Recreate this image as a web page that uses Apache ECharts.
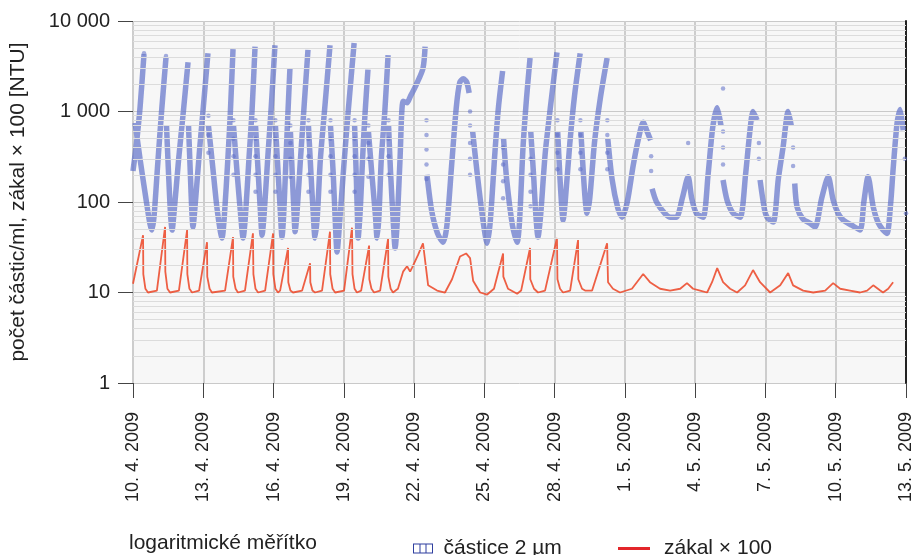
<!DOCTYPE html>
<html><head><meta charset="utf-8">
<script src="https://cdn.jsdelivr.net/npm/echarts@6/dist/echarts.min.js"></script>
<style>html,body{margin:0;padding:0;background:#fff}#c{width:919px;height:555px}</style>
</head><body><div id="c"></div>
<script>
// x values are days since 10. 4. 2009 00:00
const xTickLabels = ['10. 4. 2009','13. 4. 2009','16. 4. 2009','19. 4. 2009','22. 4. 2009','25. 4. 2009','28. 4. 2009','1. 5. 2009','4. 5. 2009','7. 5. 2009','10. 5. 2009','13. 5. 2009'];
const yTickLabels = ['1','10','100','1 000','10 000'];
const minorGrid = [2,3,4,5,6,7,8,9,20,30,40,50,60,70,80,90,200,300,400,500,600,700,800,900,2000,3000,4000,5000,6000,7000,8000,9000];
const seriesNames = ['částice 2 µm','zákal × 100'];
const footnote = 'logaritmické měřítko';
const yTitle = 'počet částic/ml, zákal × 100 [NTU]';

// particle counts (částice 2 µm): measured runs, one sub-array per continuous run
const particleSegments = [
 [[0,220],[0.15,450],[0.3,1100],[0.47,4300]],
 [[0.09,750],[0.3,300],[0.55,110],[0.72,58],[0.81,49],[0.9,70],[1.05,250],[1.22,1000],[1.41,4000]],
 [[1.43,700],[1.52,200],[1.6,75],[1.67,49],[1.75,75],[1.95,300],[2.15,1000],[2.35,3500]],
 [[2.37,700],[2.45,200],[2.51,80],[2.56,53],[2.65,90],[2.85,400],[3.0,1100],[3.2,4400]],
 [[3.22,700],[3.4,250],[3.6,80],[3.8,40],[3.9,70],[4.05,300],[4.15,900],[4.27,4900]],
 [[4.29,700],[4.45,200],[4.6,70],[4.7,40],[4.8,70],[4.95,300],[5.08,1000],[5.21,5200]],
 [[5.23,700],[5.35,200],[5.45,70],[5.51,43],[5.6,75],[5.75,300],[5.9,1100],[6.06,5400]],
 [[6.08,700],[6.2,200],[6.3,70],[6.36,41],[6.43,70],[6.52,250],[6.6,800],[6.7,3000]],
 [[6.72,600],[6.8,200],[6.87,80],[6.92,47],[7.0,75],[7.15,300],[7.3,1100],[7.47,4800]],
 [[7.49,700],[7.6,200],[7.7,70],[7.77,40],[7.87,70],[8.0,300],[8.2,1200],[8.41,5400]],
 [[8.43,700],[8.55,200],[8.65,50],[8.71,28],[8.8,50],[9.0,250],[9.2,1100],[9.44,5700]],
 [[9.46,700],[9.53,200],[9.58,70],[9.61,40],[9.7,80],[9.8,300],[9.9,900],[10.03,2900]],
 [[10.05,600],[10.2,200],[10.35,70],[10.42,40],[10.5,70],[10.6,300],[10.75,1000],[10.89,4200]],
 [[10.91,700],[11.0,200],[11.12,55],[11.19,31],[11.28,60],[11.4,300],[11.53,1300],[11.7,1250],[11.83,1450],[12.1,2000],[12.38,3000],[12.47,5200]],
 [[12.55,200],[12.75,80],[13.0,45],[13.24,36],[13.4,55],[13.6,250],[13.8,1100],[13.95,2100],[14.1,2300],[14.25,2100],[14.35,1600]],
 [[14.5,600],[14.7,200],[14.95,60],[15.12,35],[15.25,60],[15.45,350],[15.6,1100],[15.78,2800]],
 [[15.82,500],[15.95,180],[16.2,55],[16.4,36],[16.5,60],[16.65,400],[16.8,1400],[16.95,3900]],
 [[16.98,600],[17.1,200],[17.2,70],[17.29,41],[17.4,70],[17.6,350],[17.85,1300],[18.1,4500]],
 [[18.13,600],[18.22,200],[18.3,90],[18.36,63],[18.45,100],[18.65,450],[18.85,1500],[19.09,4400]],
 [[19.12,600],[19.22,220],[19.3,110],[19.38,75],[19.5,110],[19.7,450],[19.95,1400],[20.24,3900]],
 [[20.27,500],[20.45,180],[20.7,85],[20.88,68],[21.1,100],[21.35,250],[21.6,530],[21.78,760],[21.95,600],[22.1,480]],
 [[22.16,140],[22.35,100],[22.7,75],[22.95,68],[23.2,68],[23.45,110],[23.7,190],[23.85,110],[24.05,75],[24.34,68],[24.55,200],[24.75,670],[24.94,1100],[25.1,700]],
 [[25.19,175],[25.36,105],[25.62,75],[25.92,68],[26.15,200],[26.34,620],[26.47,1000],[26.64,800]],
 [[26.77,175],[26.95,85],[27.07,68],[27.33,60],[27.55,180],[27.75,400],[27.97,1000],[28.1,700]],
 [[28.25,160],[28.35,88],[28.6,65],[28.91,58],[29.12,53],[29.4,110],[29.68,190],[29.89,105],[30.1,75],[30.32,63],[30.7,55],[31.04,49],[31.2,100],[31.38,190],[31.6,88],[31.8,60],[32.02,49],[32.19,45],[32.35,100],[32.45,230],[32.62,750],[32.75,1050],[32.88,620]]
];
// sparse single readings (fast transitions)
const particleDots = [
 [0.47,4400],[1.41,4100],
 [3.22,900],[3.22,550],[3.22,350],
 [4.29,800],[4.29,500],[4.29,320],[4.29,200],
 [5.23,800],[5.23,500],[5.23,320],[5.23,200],[5.23,130],
 [6.08,800],[6.08,500],[6.08,320],[6.08,200],[6.08,130],
 [6.72,700],[6.72,450],[6.72,300],[6.72,190],
 [7.49,800],[7.49,500],[7.49,320],[7.49,200],[7.49,130],
 [8.43,800],[8.43,500],[8.43,320],[8.43,200],[8.43,130],
 [9.46,800],[9.46,500],[9.46,320],[9.46,200],[9.46,130],
 [10.05,700],[10.05,450],[10.05,300],[10.05,190],
 [10.91,800],[10.91,500],[10.91,320],[10.91,200],
 [12.53,800],[12.53,550],[12.53,380],[12.53,260],[12.53,180],
 [14.39,1000],[14.39,700],[14.39,450],[14.39,300],[14.39,200],
 [15.8,400],[15.8,260],[15.8,170],[15.8,110],
 [16.97,300],[16.97,200],[16.97,130],[16.97,90],
 [18.12,800],[18.12,550],[18.12,350],[18.12,230],
 [19.1,800],[19.1,550],[19.1,350],[19.1,230],
 [20.25,800],[20.25,550],[20.25,350],[20.25,230],
 [22.12,320],[22.12,220],
 [23.7,450],
 [25.19,1800],[25.19,600],[25.19,400],[25.19,260],
 [26.72,450],[26.72,300],
 [28.18,400],[28.18,250],
 [32.95,300],[33.0,75]
];
// turbidity × 100
const turbidity = [
 [0,12.5],[0.43,43],[0.44,16],[0.53,11],[0.64,10],[1.02,10.5],
 [1.37,53],[1.38,17],[1.47,11],[1.58,10],[1.96,10.5],
 [2.31,49],[2.32,16],[2.41,11],[2.52,10],[2.82,10.5],
 [3.16,36],[3.17,15],[3.27,11],[3.37,10],[3.93,10.5],
 [4.27,41],[4.28,15],[4.38,11],[4.48,10],[4.78,10.5],
 [5.12,45],[5.14,16],[5.23,11],[5.34,10],[5.64,10.5],
 [5.98,45],[5.99,16],[6.08,11],[6.19,10],[6.28,10.5],
 [6.62,31],[6.63,13],[6.72,10.5],[6.83,10],[7.22,10.5],
 [7.56,21],[7.57,13],[7.66,10.5],[7.77,10],[8.07,10.5],
 [8.41,47],[8.42,16],[8.52,11],[8.63,10],[9.01,10.5],
 [9.35,52],[9.37,16],[9.46,11],[9.56,10],[9.74,10.5],
 [10.08,33],[10.09,14],[10.18,11],[10.29,10],[10.55,10.5],
 [10.89,39],[10.9,15],[11.0,11],[11.1,10],[11.31,11],[11.53,17],[11.7,19.5],[11.83,17],[11.92,19],[12.17,26],[12.38,35],[12.6,12],[12.98,10.5],[13.32,10],[13.62,14],[13.96,25],[14.22,27],[14.39,24],[14.52,13.5],[14.82,10],[15.12,9.5],[15.41,11],
 [15.8,27],[15.81,15],[16.01,11],[16.4,9.7],[16.57,10.5],
 [16.95,31],[16.96,14],[17.12,11],[17.29,10],[17.59,10.5],
 [18.1,40],[18.12,14],[18.23,11],[18.36,10],[18.66,10.5],
 [19.0,38],[19.01,14],[19.17,11],[19.3,10.5],[19.6,10.5],
 [20.24,35],[20.28,13],[20.49,11],[20.79,10],[21.3,11],[21.78,16],[22.07,13],[22.5,11],[22.93,10.5],[23.36,11],[23.65,12.7],[23.91,11],[24.21,10.5],[24.51,10],[24.72,13],[24.94,18.6],[25.19,13],[25.49,11],[25.79,10],[26.13,12],[26.47,17.7],[26.77,13],[27.2,10],[27.63,12],[27.97,16.4],[28.18,12],[28.61,10.5],[29.04,10],[29.55,10.5],[29.89,12.7],[30.19,11],[30.61,10.5],[31.04,10],[31.34,10.5],[31.6,12],[31.9,10.5],[32.02,10],[32.24,11],[32.45,13]
];

const FONT = '"Liberation Sans", Arial, sans-serif';
const blueLine = [];
particleSegments.forEach(function(seg, i){
  if (i > 0) blueLine.push([seg[0][0], '-']);
  seg.forEach(function(p){ blueLine.push(p); });
});

const chart = echarts.init(document.getElementById('c'), null, {renderer:'canvas'});
chart.setOption({
  animation: false,
  backgroundColor: '#ffffff',
  textStyle: {fontFamily: FONT},
  grid: {left: 133, right: 13, top: 21, bottom: 172, show: true, backgroundColor: '#f7f7f7', borderWidth: 0},
  xAxis: {
    type: 'value', min: 0, max: 33, interval: 3,
    axisLine: {show: false},
    axisTick: {show: true, length: 15, lineStyle: {color: '#444', width: 1}},
    axisLabel: {rotate: 90, margin: 29, fontSize: 18, color: '#222', fontFamily: FONT,
      formatter: function(v){ return xTickLabels[Math.round(v/3)]; }},
    splitLine: {show: true, lineStyle: {color: '#cdcdcd', width: 2}}
  },
  yAxis: [{
    type: 'log', logBase: 10, min: 1, max: 10000,
    name: yTitle, nameLocation: 'middle', nameGap: 104,
    nameTextStyle: {fontSize: 21, color: '#222', fontFamily: FONT},
    axisLine: {show: false},
    axisTick: {show: true, length: 15, lineStyle: {color: '#444', width: 1}},
    axisLabel: {margin: 23, fontSize: 20, color: '#222', fontFamily: FONT,
      formatter: function(v){ return yTickLabels[Math.round(Math.log10(v))]; }},
    splitLine: {show: true, lineStyle: {color: '#c9c9c9', width: 1}}
  },{
    type: 'log', logBase: 10, min: 1, max: 10000, position: 'right',
    axisLine: {show: true, lineStyle: {color: '#222', width: 2}},
    axisTick: {show: false}, axisLabel: {show: false}, splitLine: {show: false}
  }],
  legend: [{
    left: 408, top: 533, itemWidth: 21, itemHeight: 10, selectedMode: false,
    textStyle: {fontSize: 21, color: '#222', fontFamily: FONT, padding: [0,0,0,5]},
    data: [{name: seriesNames[0], icon: 'path://M0,0H20V10H0ZM1,1V9H19V1ZM6.5,1V9H7.5V1ZM12.5,1V9H13.5V1Z', itemStyle: {color: '#2f3f9f'}}]
  },{
    left: 613, top: 533, itemWidth: 32, itemHeight: 3, selectedMode: false,
    textStyle: {fontSize: 21, color: '#222', fontFamily: FONT, padding: [0,0,0,9]},
    data: [{name: seriesNames[1], icon: 'rect', itemStyle: {color: '#e3262a'}}]
  }],
  graphic: [{
    type: 'text', left: 129, top: 533,
    style: {text: footnote, font: '21px "Liberation Sans", Arial, sans-serif', fill: '#222'}
  }],
  series: [{
    type: 'line', name: 'grid', data: [], z: 1, silent: true,
    markLine: {silent: true, symbol: 'none', animation: false, label: {show: false},
      lineStyle: {color: '#dcdcdc', width: 1, type: 'solid'},
      data: minorGrid.map(function(v){ return {yAxis: v}; })}
  },{
    type: 'line', name: seriesNames[0], data: blueLine, z: 3,
    showSymbol: false, smooth: 0.25, connectNulls: false,
    lineStyle: {color: 'rgba(100,116,202,0.72)', width: 5.5},
    itemStyle: {color: '#2f3f9f'}
  },{
    type: 'scatter', name: 'dots', data: particleDots, z: 3,
    symbolSize: 4.5, itemStyle: {color: 'rgba(95,110,200,0.7)'}
  },{
    type: 'line', name: seriesNames[1], data: turbidity, z: 4,
    showSymbol: false, smooth: false,
    lineStyle: {color: 'rgba(236,78,48,0.9)', width: 1.8},
    itemStyle: {color: '#e3262a'}
  }]
});
</script></body></html>
